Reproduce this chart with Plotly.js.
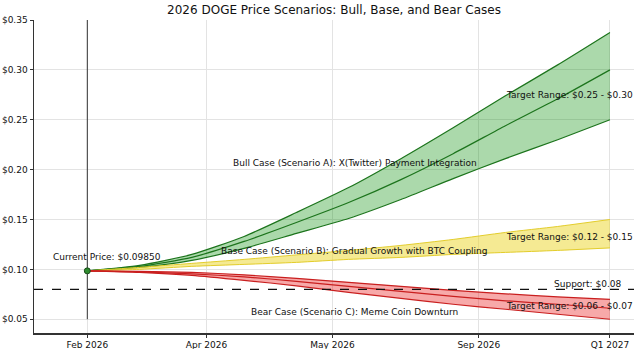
<!DOCTYPE html>
<html>
<head>
<meta charset="utf-8">
<script src="https://cdn.plot.ly/plotly-3.0.1.min.js"></script>
<style>html,body{margin:0;padding:0;background:#fff;}#chart{width:640px;height:349px;}</style>
</head>
<body>
<div id="chart"></div>
<script>
// Timeline positions (Feb 2026 = 0, Q1 2027 = 100)
const xPos = [0, 10, 20, 30, 40, 50, 60, 70, 80, 90, 100];
const tickPos = [0, 22.8, 46.9, 74.9, 100];
const tickLabels = ["Feb 2026", "Apr 2026", "May 2026", "Sep 2026", "Q1 2027"];

const currentPrice = 0.0985;
const supportLevel = 0.08;

const bullUpper  = [0.0985, 0.104, 0.115, 0.133, 0.157, 0.182, 0.211, 0.242, 0.274, 0.305, 0.3375];
const bullCenter = [0.0985, 0.103, 0.112, 0.128, 0.147, 0.167, 0.190, 0.216, 0.244, 0.271, 0.300];
const bullLower  = [0.0985, 0.102, 0.109, 0.121, 0.136, 0.151, 0.170, 0.191, 0.211, 0.230, 0.250];

const baseUpper  = [0.0985, 0.102, 0.106, 0.110, 0.1145, 0.119, 0.124, 0.130, 0.137, 0.143, 0.150];
const baseLower  = [0.0985, 0.100, 0.103, 0.105, 0.107, 0.110, 0.112, 0.115, 0.117, 0.119, 0.1215];

const bearUpper  = [0.0985, 0.098, 0.097, 0.0945, 0.091, 0.087, 0.083, 0.079, 0.0755, 0.0725, 0.070];
const bearCenter = [0.0985, 0.0975, 0.0955, 0.0925, 0.088, 0.083, 0.078, 0.073, 0.0685, 0.065, 0.061];
const bearLower  = [0.0985, 0.097, 0.094, 0.089, 0.0835, 0.077, 0.071, 0.065, 0.060, 0.055, 0.050];

const font = "DejaVu Sans, Verdana, sans-serif";
const green = "#1c741c", yellowLine = "#e3cd2c", redLine = "#c91f1f";

function band(lower, upper, fillColor, lineColor, w) {
  return [
    {x: xPos, y: lower, mode: "lines", line: {color: lineColor, width: w, shape: "spline", smoothing: 0.6}, hoverinfo: "skip", showlegend: false},
    {x: xPos, y: upper, mode: "lines", fill: "tonexty", fillcolor: fillColor, line: {color: lineColor, width: w, shape: "spline", smoothing: 0.6}, hoverinfo: "skip", showlegend: false}
  ];
}

const traces = [
  ...band(bullLower, bullUpper, "rgba(0,140,0,0.33)", green, 1.2),
  {x: xPos, y: bullCenter, mode: "lines", line: {color: green, width: 1.2, shape: "spline", smoothing: 0.6}, showlegend: false},
  ...band(baseLower, baseUpper, "rgba(236,214,40,0.5)", yellowLine, 1),
  ...band(bearLower, bearUpper, "rgba(235,30,30,0.38)", redLine, 1.2),
  {x: xPos, y: bearCenter, mode: "lines", line: {color: redLine, width: 1.2, shape: "spline", smoothing: 0.6}, showlegend: false},
  {x: [0, 0], y: [0.05, 0.35], mode: "lines", line: {color: "#333", width: 1}, showlegend: false},
  {x: [0], y: [currentPrice], mode: "markers", marker: {color: "#2e8b2e", size: 6, line: {color: "#1a4d1a", width: 1}}, showlegend: false}
];

const annotations = [
  {x: 3.8, y: 0.1125, text: "Current Price: $0.09850"},
  {x: 51.2, y: 0.2063, text: "Bull Case (Scenario A): X(Twitter) Payment Integration"},
  {x: 51.2, y: 0.1188, text: "Base Case (Scenario B): Gradual Growth with BTC Coupling"},
  {x: 51.2, y: 0.0571, text: "Bear Case (Scenario C): Meme Coin Downturn"},
  {x: 92.3, y: 0.2747, text: "Target Range: $0.25 - $0.30"},
  {x: 92.3, y: 0.1329, text: "Target Range: $0.12 - $0.15"},
  {x: 92.3, y: 0.0628, text: "Target Range: $0.06 - $0.07"},
  {x: 95.8, y: 0.0856, text: "Support: $0.08"}
].map(a => Object.assign({xref: "x", yref: "y", showarrow: false, xanchor: "center", yanchor: "middle", font: {family: font, size: 9, color: "#111"}}, a));

const layout = {
  width: 640, height: 349,
  margin: {l: 34, r: 6, t: 20, b: 16},
  paper_bgcolor: "#fff", plot_bgcolor: "#fff",
  font: {family: font, color: "#111"},
  title: {text: "2026 DOGE Price Scenarios: Bull, Base, and Bear Cases", font: {family: font, size: 12, color: "#111"},
          x: 0.5, xanchor: "center", xref: "paper", y: 0.971, yanchor: "middle", yref: "container"},
  xaxis: {range: [-10.2, 104.6], tickvals: tickPos, ticktext: tickLabels, showgrid: true, gridcolor: "#e3e3e3", gridwidth: 1,
          zeroline: false, showline: true, linecolor: "#333", linewidth: 1.5, ticks: "outside", ticklen: 3, tickcolor: "#333",
          tickfont: {family: font, size: 9, color: "#111"}, automargin: false},
  yaxis: {range: [0.0362, 0.35], tickvals: [0.05, 0.10, 0.15, 0.20, 0.25, 0.30, 0.35],
          ticktext: ["$0.05", "$0.10", "$0.15", "$0.20", "$0.25", "$0.30", "$0.35"],
          showgrid: true, gridcolor: "#e3e3e3", gridwidth: 1, zeroline: false, showline: true, linecolor: "#333", linewidth: 1.5,
          ticks: "outside", ticklen: 3, tickcolor: "#333", tickfont: {family: font, size: 9, color: "#111"}, automargin: false},
  shapes: [
    {type: "line", xref: "paper", x0: 0, x1: 1, yref: "y", y0: supportLevel, y1: supportLevel, line: {color: "#111", width: 1.2, dash: "dash"}}
  ],
  annotations: annotations,
  showlegend: false
};

Plotly.newPlot("chart", traces, layout, {displayModeBar: false, staticPlot: true});
</script>
</body>
</html>
